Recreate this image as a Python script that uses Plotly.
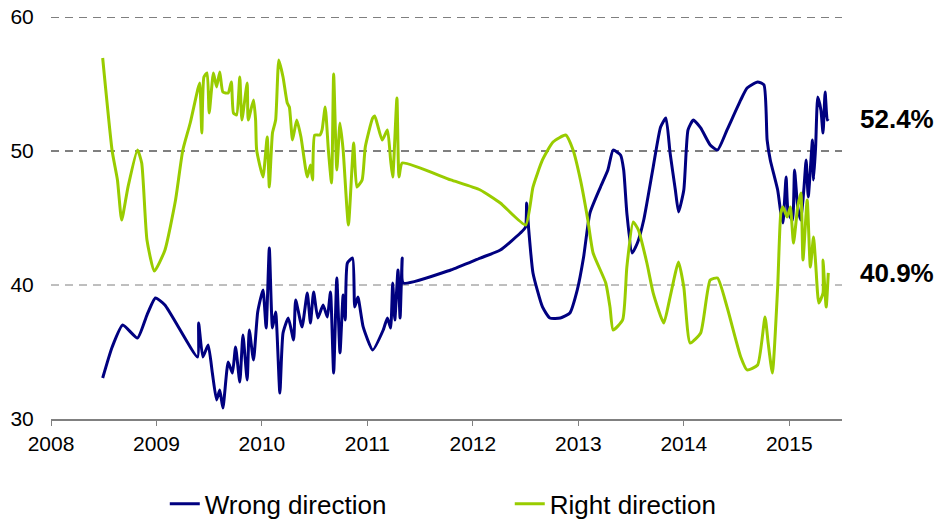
import plotly.graph_objects as go

# ---- data ----
wrong_x = [2008.49, 2008.58, 2008.68, 2008.82, 2008.91, 2008.99, 2009.08, 2009.39, 2009.40, 2009.44,
           2009.49, 2009.53, 2009.57, 2009.60, 2009.63, 2009.68, 2009.72, 2009.75, 2009.79, 2009.82,
           2009.86, 2009.88, 2009.92, 2009.96, 2010.01, 2010.04, 2010.07, 2010.10, 2010.13, 2010.17,
           2010.20, 2010.25, 2010.30, 2010.32, 2010.38, 2010.43, 2010.46, 2010.49, 2010.53, 2010.58,
           2010.62, 2010.65, 2010.68, 2010.71, 2010.74, 2010.77, 2010.79, 2010.81, 2010.86, 2010.88,
           2010.91, 2010.96, 2011.05, 2011.15, 2011.19, 2011.22, 2011.24, 2011.26, 2011.29, 2011.31,
           2011.33, 2011.34, 2011.79, 2012.07, 2012.26, 2012.45, 2012.50, 2012.51, 2012.53, 2012.57,
           2012.66, 2012.73, 2012.83, 2012.92, 2012.99, 2013.05, 2013.11, 2013.21, 2013.28, 2013.33,
           2013.40, 2013.43, 2013.46, 2013.51, 2013.56, 2013.62, 2013.71, 2013.78, 2013.83, 2013.87,
           2013.92, 2013.95, 2014.00, 2014.04, 2014.09, 2014.16, 2014.25, 2014.32, 2014.41, 2014.54,
           2014.60, 2014.70, 2014.76, 2014.79, 2014.82, 2014.89, 2014.92, 2014.94, 2014.97, 2014.99,
           2015.03, 2015.05, 2015.08, 2015.11, 2015.14, 2015.16, 2015.18, 2015.22, 2015.23, 2015.25,
           2015.27, 2015.30, 2015.32, 2015.34, 2015.36, 2015.37]
wrong_y = [33.06, 35.37, 37.01, 36.04, 37.76, 39.03, 38.51, 34.63, 37.16, 34.63,
           35.52, 33.43, 31.42, 32.16, 30.82, 34.25, 33.43, 35.37, 32.76, 36.27,
           32.91, 36.64, 34.40, 37.99, 39.63, 36.79, 42.76, 36.79, 37.99, 31.94,
           36.42, 37.54, 35.90, 38.88, 36.87, 39.40, 37.16, 39.48, 37.54, 38.51,
           37.61, 39.48, 33.43, 40.52, 34.93, 39.25, 37.39, 41.64, 42.01, 38.36,
           39.10, 36.87, 35.15, 36.64, 37.54, 36.79, 40.15, 37.39, 41.12, 37.54,
           42.01, 40.15, 41.12, 42.01, 42.61, 43.88, 44.33, 46.12, 44.10, 40.90,
           38.36, 37.54, 37.54, 37.91, 39.63, 42.09, 45.37, 47.31, 48.58, 50.07,
           49.70, 48.58, 45.37, 42.39, 43.13, 44.85, 48.81, 51.79, 52.46, 49.85,
           47.09, 45.45, 47.09, 51.57, 52.31, 51.72, 50.45, 50.07, 51.57, 53.81,
           54.70, 55.15, 54.93, 50.82, 49.33, 47.09, 45.37, 44.63, 48.06, 45.37,
           44.85, 48.58, 45.82, 44.85, 47.31, 49.33, 46.57, 50.82, 47.84, 50.30,
           54.03, 53.06, 51.34, 54.40, 52.31, 52.40]

right_x = [2008.49, 2008.58, 2008.63, 2008.67, 2008.73, 2008.82, 2008.86, 2008.91, 2008.98, 2009.08,
           2009.18, 2009.25, 2009.32, 2009.39, 2009.41, 2009.43, 2009.45, 2009.48, 2009.50, 2009.54,
           2009.57, 2009.60, 2009.63, 2009.68, 2009.71, 2009.73, 2009.76, 2009.79, 2009.81, 2009.86,
           2009.87, 2009.92, 2009.94, 2009.95, 2010.01, 2010.05, 2010.07, 2010.10, 2010.13, 2010.16,
           2010.20, 2010.24, 2010.26, 2010.29, 2010.33, 2010.37, 2010.43, 2010.46, 2010.48, 2010.50,
           2010.55, 2010.57, 2010.60, 2010.63, 2010.66, 2010.68, 2010.71, 2010.74, 2010.77, 2010.82,
           2010.87, 2010.90, 2010.95, 2010.98, 2011.05, 2011.07, 2011.14, 2011.19, 2011.22, 2011.24,
           2011.28, 2011.30, 2011.33, 2011.79, 2012.07, 2012.26, 2012.50, 2012.57, 2012.66, 2012.76,
           2012.88, 2012.95, 2013.02, 2013.09, 2013.14, 2013.26, 2013.30, 2013.33, 2013.42, 2013.46,
           2013.52, 2013.57, 2013.65, 2013.71, 2013.81, 2013.87, 2013.95, 2014.00, 2014.06, 2014.16,
           2014.25, 2014.32, 2014.41, 2014.54, 2014.60, 2014.70, 2014.77, 2014.80, 2014.84, 2014.89,
           2014.92, 2014.94, 2014.98, 2015.01, 2015.04, 2015.08, 2015.11, 2015.13, 2015.17, 2015.20,
           2015.23, 2015.25, 2015.28, 2015.32, 2015.32, 2015.35, 2015.37]
right_y = [56.94, 50.00, 47.84, 44.85, 47.31, 50.07, 49.10, 43.36, 41.04, 42.60,
           46.30, 50.07, 52.09, 54.55, 55.07, 51.34, 55.52, 55.82, 52.84, 55.82,
           54.78, 55.90, 54.40, 54.33, 55.15, 52.84, 52.69, 55.52, 52.31, 55.07,
           52.31, 53.81, 52.31, 50.07, 48.06, 51.04, 47.31, 51.34, 52.31, 56.79,
           55.52, 53.58, 53.28, 50.82, 52.31, 51.04, 48.06, 48.96, 47.84, 51.19,
           51.19, 51.57, 53.28, 50.07, 47.61, 55.75, 48.58, 52.09, 50.07, 44.48,
           50.60, 47.31, 47.84, 50.30, 52.46, 52.61, 50.82, 51.57, 49.33, 48.06,
           53.96, 48.06, 49.10, 47.84, 47.09, 46.12, 44.48, 47.31, 49.33, 50.67,
           51.19, 50.07, 47.84, 44.85, 42.39, 40.15, 38.36, 36.64, 37.39, 41.34,
           44.70, 44.10, 41.64, 39.40, 37.16, 39.10, 41.72, 39.85, 35.67, 36.42,
           40.37, 40.52, 38.36, 34.63, 33.66, 34.03, 37.61, 35.67, 33.43, 39.85,
           45.37, 45.82, 45.07, 45.82, 43.13, 45.82, 46.87, 41.87, 46.34, 41.34,
           43.58, 41.64, 38.66, 39.40, 41.87, 38.36, 40.90]

series_names = ["Wrong direction", "Right direction"]
series_colors = ["#000080", "#99CC00"]
end_labels = ["52.4%", "40.9%"]
end_values = [52.4, 40.9]

x_ticks = [2008, 2009, 2010, 2011, 2012, 2013, 2014, 2015]
y_ticks = [30, 40, 50, 60]
grid_values = [40, 50, 60]
grid_colors = ["#7f7f7f", "#000000", "#000000"]

FONT = "Liberation Sans, Arial, sans-serif"

# ---- figure ----
fig = go.Figure()
fig.add_trace(go.Scatter(x=wrong_x, y=wrong_y, mode="lines", name=series_names[0],
                         line=dict(color=series_colors[0], width=3, shape="spline", smoothing=0.5),
                         legend="legend"))
fig.add_trace(go.Scatter(x=right_x, y=right_y, mode="lines", name=series_names[1],
                         line=dict(color=series_colors[1], width=3, shape="spline", smoothing=0.5),
                         legend="legend2"))

for gv, gc in zip(grid_values, grid_colors):
    fig.add_shape(type="line", xref="paper", x0=0, x1=1, yref="y", y0=gv, y1=gv,
                  line=dict(color=gc, width=1, dash="8px,6px"), layer="below")

for lab, val in zip(end_labels, end_values):
    fig.add_annotation(text="<b>" + lab + "</b>", xref="paper", x=1.02, xanchor="left",
                       yref="y", y=val, yanchor="middle", showarrow=False,
                       font=dict(family=FONT, size=26, color="#000000"))

legend_common = dict(orientation="h", xref="container", yref="container",
                     yanchor="middle", y=0.033, xanchor="left",
                     font=dict(family=FONT, size=26, color="#000000"),
                     bgcolor="rgba(0,0,0,0)", itemwidth=30)
fig.update_layout(
    width=940, height=521,
    showlegend=True,
    margin=dict(l=51, r=98, t=17, b=102, autoexpand=False),
    plot_bgcolor="white", paper_bgcolor="white",
    font=dict(family=FONT, size=21, color="#000000"),
    legend=dict(x=0.1753, **legend_common),
    legend2=dict(x=0.5423, **legend_common),
    xaxis=dict(range=[2008, 2015.5], tickvals=x_ticks, ticktext=[str(t) for t in x_ticks],
               showgrid=False, zeroline=False, showline=True, linecolor="#808080", linewidth=1.5,
               ticks="outside", ticklen=5, tickcolor="#808080", tickfont=dict(size=21)),
    yaxis=dict(range=[30, 60], tickvals=y_ticks, showgrid=False, zeroline=False, showline=False,
               ticks="outside", ticklen=12, tickcolor="rgba(0,0,0,0)", tickfont=dict(size=21)),
)

fig.write_html("out.html", config={"displayModeBar": False},
               post_script="document.body.style.margin='0';document.body.style.padding='0';")
